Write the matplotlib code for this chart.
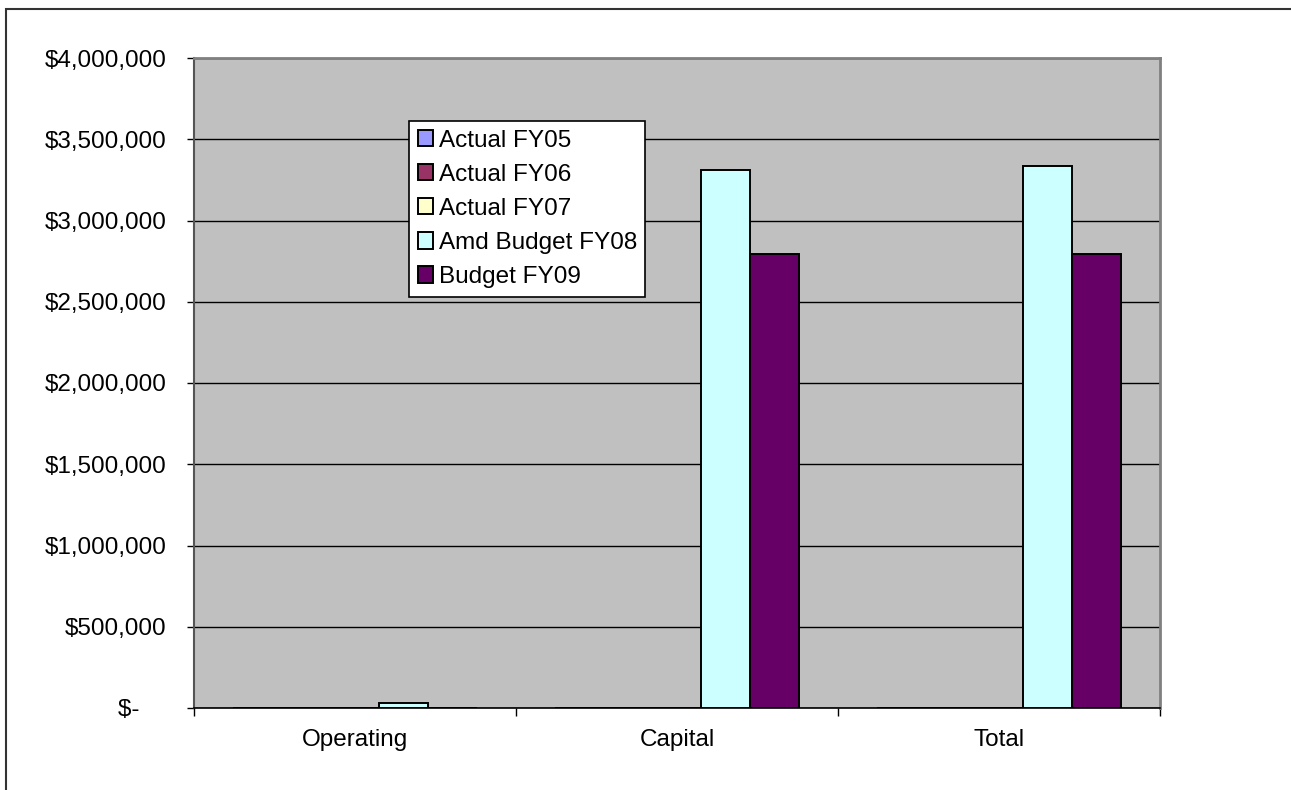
import matplotlib
matplotlib.use("Agg")
import matplotlib.pyplot as plt
from matplotlib.patches import Rectangle
from matplotlib.ticker import FuncFormatter
import numpy as np

plt.rcParams['font.family'] = ['Liberation Sans', 'DejaVu Sans']

categories = ["Operating", "Capital", "Total"]
series_names = ["Actual FY05", "Actual FY06", "Actual FY07", "Amd Budget FY08", "Budget FY09"]
actual_fy05 = [0, 0, 0]
actual_fy06 = [0, 0, 0]
actual_fy07 = [0, 0, 0]
amd_budget_fy08 = [28000, 3310000, 3338000]
budget_fy09 = [0, 2795000, 2795000]
y_ticks = [0, 500000, 1000000, 1500000, 2000000, 2500000, 3000000, 3500000, 4000000]

series = [actual_fy05, actual_fy06, actual_fy07, amd_budget_fy08, budget_fy09]
colors = ["#9999FF", "#993366", "#FFFFCC", "#CCFFFF", "#660066"]

W, H = 1291, 790
fs = 17.5
fig = plt.figure(figsize=(W / 100, H / 100), dpi=100)
ax = fig.add_axes([194 / W, (H - 708) / H, (1160 - 194) / W, (708 - 58) / H])
ax.set_facecolor("#C0C0C0")

x = np.arange(len(categories))
bw = 0.152
handles = []
for i, (vals, name, c) in enumerate(zip(series, series_names, colors)):
    h = ax.bar(x + (i - 2) * bw, vals, width=bw, color=c, edgecolor="black",
               linewidth=1.4, label=name, zorder=3)
    handles.append(h)

ax.set_xlim(-0.5, 2.5)
ax.set_ylim(0, 4000000)

# gridlines
ax.set_yticks(y_ticks)
ax.yaxis.grid(True, color="black", linewidth=1.0, zorder=1)
ax.set_axisbelow(True)


def money(v, pos):
    if v == 0:
        return "$-    "
    return "${:,.0f}".format(v)


ax.yaxis.set_major_formatter(FuncFormatter(money))
ax.tick_params(axis="y", which="major", length=5, width=1, pad=15,
               labelsize=fs, color="black")

# category boundaries as ticks, labels at centers
ax.set_xticks([-0.5, 0.5, 1.5, 2.5])
ax.set_xticklabels([])
ax.set_xticks(x, minor=True)
ax.set_xticklabels(categories, minor=True)
ax.tick_params(axis="x", which="major", length=6, width=1, color="black")
ax.tick_params(axis="x", which="minor", length=0, pad=15, labelsize=fs)

for s in ["top", "right"]:
    ax.spines[s].set_color("#808080")
    ax.spines[s].set_linewidth(2)
ax.spines["left"].set_color("#555555")
ax.spines["left"].set_linewidth(1.5)
ax.spines["bottom"].set_color("black")
ax.spines["bottom"].set_linewidth(1.2)

leg = ax.legend(handles=handles, loc="upper left",
                bbox_to_anchor=((409 - 194) / (1160 - 194), (708 - 121) / (708 - 58)),
                fontsize=fs, frameon=True, fancybox=False, handlelength=0.65,
                handleheight=0.65, handletextpad=0.22, labelspacing=0.5,
                borderpad=0.35, borderaxespad=0)
leg.get_frame().set_edgecolor("black")
leg.get_frame().set_linewidth(1.2)
leg.get_frame().set_facecolor("white")
leg.get_frame().set_alpha(1)

# outer chart border
fig.patches.append(Rectangle((5.5 / W, -0.05), 1.2, (H - 8.5) / H + 0.05,
                             transform=fig.transFigure, fill=False,
                             edgecolor="#333333", linewidth=1.5))

fig.savefig("out.png", dpi=100)
